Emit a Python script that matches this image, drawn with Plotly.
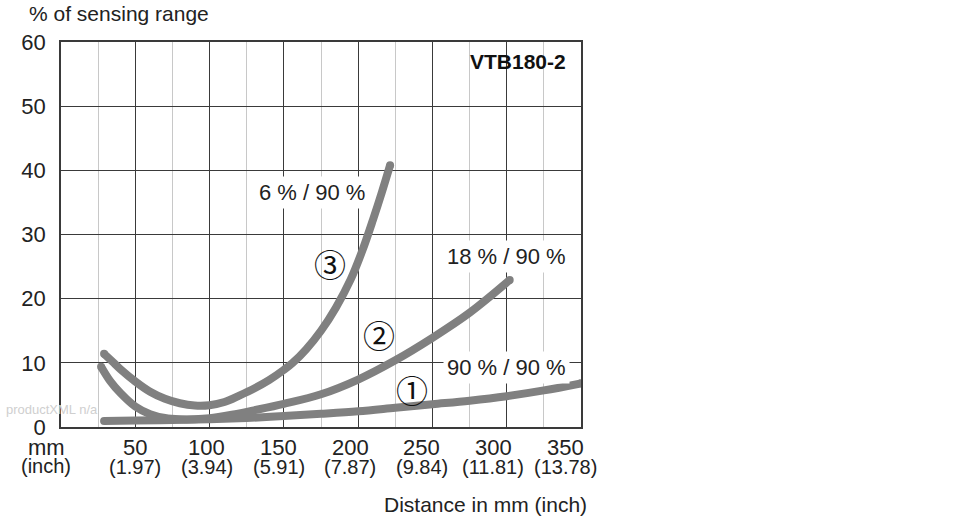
import plotly.graph_objects as go

# ---------------- data ----------------
x_ticks = [50, 100, 150, 200, 250, 300, 350]
x_tick_mm = ["50", "100", "150", "200", "250", "300", "350"]
x_tick_inch = ["(1.97)", "(3.94)", "(5.91)", "(7.87)", "(9.84)", "(11.81)", "(13.78)"]
y_ticks = [0, 10, 20, 30, 40, 50, 60]

# curve 1 : 90 % / 90 %
c1_x = [29, 50, 75, 100, 125, 150, 175, 200, 225, 250, 275, 300, 325, 350]
c1_y = [0.95, 1.0, 1.1, 1.2, 1.4, 1.7, 2.05, 2.45, 3.0, 3.55, 4.1, 4.8, 5.7, 6.8]
# curve 2 : 18 % / 90 %
c2_x = [27, 33, 40, 50, 60, 70, 80, 90, 100, 115, 130, 150, 175, 200, 225, 250, 275, 302]
c2_y = [9.4, 7.2, 5.3, 3.2, 2.0, 1.4, 1.2, 1.2, 1.35, 1.9, 2.6, 3.6, 5.1, 7.4, 10.4, 13.9, 17.8, 22.9]
# curve 3 : 6 % / 90 %
c3_x = [29, 35, 40, 50, 60, 70, 80, 90, 100, 110, 120, 130, 140, 150, 156, 165, 175, 185, 195, 203, 210, 216, 221.5]
c3_y = [11.4, 10.1, 9.0, 7.1, 5.5, 4.4, 3.7, 3.35, 3.4, 3.9, 4.9, 6.0, 7.3, 8.9, 10.0, 12.1, 15.0, 18.6, 23.0, 27.6, 32.3, 36.6, 40.8]

curve_names = ["90 % / 90 %", "18 % / 90 %", "6 % / 90 %"]
curve_marks = ["①", "②", "③"]
label_pos = [(300, 9.3), (300, 26.6), (169, 36.6)]
mark_pos = [(236, 6.0), (214, 14.5), (181, 25.6)]

# ---------------- styling ----------------
FONT = "Liberation Sans, Arial, sans-serif"
TXT = "#222222"
CURVE = "#808080"
DARK = "#3a3a3a"
LIGHT = "#c8c8c8"

fig = go.Figure()
for xs, ys, nm in [(c1_x, c1_y, curve_names[0]), (c2_x, c2_y, curve_names[1]), (c3_x, c3_y, curve_names[2])]:
    fig.add_trace(go.Scatter(
        x=xs, y=ys, mode="lines", name=nm,
        line=dict(color=CURVE, width=8, shape="spline", smoothing=1.0),
        hoverinfo="skip", showlegend=False))
    fig.add_trace(go.Scatter(
        x=[xs[0], xs[-1]], y=[ys[0], ys[-1]], mode="markers",
        marker=dict(color=CURVE, size=8, line=dict(width=0)),
        hoverinfo="skip", showlegend=False))

annotations = []
# x tick labels (two lines)
for v, mm, inch in zip(x_ticks, x_tick_mm, x_tick_inch):
    shift = -0.053 * (v - 50)
    annotations.append(dict(x=v, y=0, xref="x", yref="paper", text=mm, showarrow=False,
                            xanchor="center", yanchor="middle", xshift=shift, yshift=-20,
                            font=dict(family=FONT, size=22, color=TXT)))
    annotations.append(dict(x=v, y=0, xref="x", yref="paper", text=inch, showarrow=False,
                            xanchor="center", yanchor="middle", xshift=shift, yshift=-40,
                            font=dict(family=FONT, size=20, color=TXT)))
annotations.append(dict(x=0, y=0, xref="paper", yref="paper", text="mm", showarrow=False,
                        xanchor="center", yanchor="middle", xshift=-15, yshift=-20,
                        font=dict(family=FONT, size=22, color=TXT)))
annotations.append(dict(x=0, y=0, xref="paper", yref="paper", text="(inch)", showarrow=False,
                        xanchor="center", yanchor="middle", xshift=-15, yshift=-39,
                        font=dict(family=FONT, size=20, color=TXT)))
# axis titles
annotations.append(dict(x=0, y=1, xref="paper", yref="paper", text="% of sensing range",
                        showarrow=False, xanchor="left", yanchor="middle", xshift=-34, yshift=29,
                        font=dict(family=FONT, size=21, color=TXT)))
annotations.append(dict(x=1, y=0, xref="paper", yref="paper", text="Distance in mm (inch)",
                        showarrow=False, xanchor="right", yanchor="middle", xshift=8, yshift=-77,
                        font=dict(family=FONT, size=21, color=TXT)))
# model name
annotations.append(dict(x=1, y=1, xref="paper", yref="paper", text="<b>VTB180-2</b>",
                        showarrow=False, xanchor="right", yanchor="middle", xshift=-13, yshift=-19,
                        font=dict(family=FONT, size=21, color="#111111")))
# curve labels
for (lx, ly), nm in zip(label_pos, curve_names):
    annotations.append(dict(x=lx, y=ly, xref="x", yref="y", text=nm, showarrow=False,
                            xanchor="center", yanchor="middle", bgcolor="white", borderpad=3,
                            font=dict(family=FONT, size=22, color=TXT)))
for (mx, my), mk in zip(mark_pos, curve_marks):
    annotations.append(dict(x=mx, y=my, xref="x", yref="y", text=mk, showarrow=False,
                            xanchor="center", yanchor="middle",
                            font=dict(family="Noto Sans CJK JP", size=32, color="#111111")))
# watermark
annotations.append(dict(x=0, y=0, xref="paper", yref="paper", text="productXML n/a",
                        showarrow=False, xanchor="left", yanchor="middle", xshift=-57, yshift=18,
                        font=dict(family=FONT, size=13, color="#cfcfcf")))

fig.update_layout(
    width=970, height=520,
    margin=dict(l=61, r=389, t=42, b=93),
    paper_bgcolor="white", plot_bgcolor="white",
    annotations=annotations,
    font=dict(family=FONT, color=TXT),
)
fig.update_xaxes(
    range=[0, 350], tick0=0, dtick=50, showticklabels=False, ticks="",
    showgrid=True, gridcolor=DARK, gridwidth=1.3,
    minor=dict(tick0=0, dtick=25, showgrid=True, gridcolor=LIGHT, gridwidth=1.3),
    zeroline=False, showline=True, linecolor=DARK, linewidth=1.6, mirror=True,
)
fig.update_yaxes(
    range=[0, 60], tickvals=y_ticks, ticks="", ticklabelstandoff=9,
    tickfont=dict(family=FONT, size=22, color=TXT),
    showgrid=True, gridcolor=DARK, gridwidth=1.3,
    zeroline=False, showline=True, linecolor=DARK, linewidth=1.6, mirror=True,
)

fig.write_html("out.html")
